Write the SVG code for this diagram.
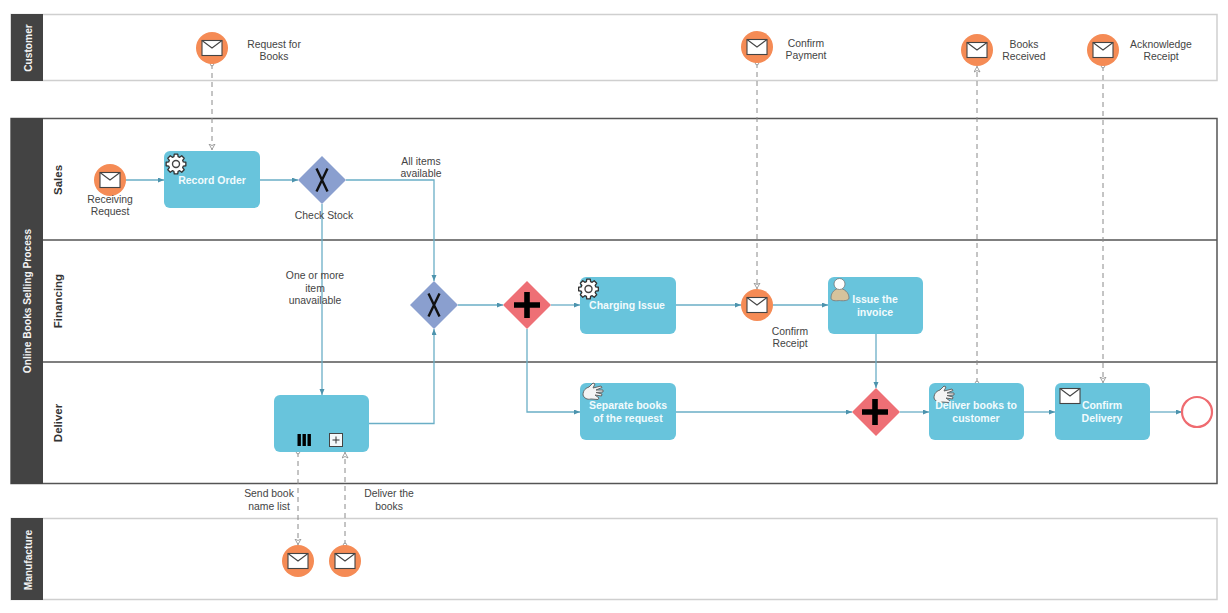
<svg xmlns="http://www.w3.org/2000/svg" xmlns:xlink="http://www.w3.org/1999/xlink" width="1228" height="613" viewBox="0 0 1228 613">
<style>
text{font-family:"Liberation Sans",Arial,sans-serif}
.pool{fill:#fff;stroke:#cfcfcf;stroke-width:1.5}
.main{fill:#fff;stroke:#555;stroke-width:1.5}
.hd{fill:#434343}
.hl{fill:#f4f4f4;font-size:10.2px;font-weight:bold;text-anchor:middle}
.ll{fill:#333;font-size:11.5px;font-weight:bold;text-anchor:middle}
.lab{fill:#444;font-size:10.4px;text-anchor:middle}
.tt{fill:#f2fbfd;font-size:10.5px;font-weight:bold;text-anchor:middle}
.task{fill:#68c4dc}
.ev{fill:#f58b55}
.flow{fill:none;stroke:#6aaec6;stroke-width:1.3;marker-end:url(#ah)}
.msg{fill:none;stroke:#8a8a8a;stroke-width:1;stroke-dasharray:5 4;marker-end:url(#oh);marker-start:url(#oc)}
</style>
<defs>
<marker id="ah" markerUnits="userSpaceOnUse" markerWidth="8" markerHeight="6" refX="6" refY="2.500" orient="auto"><path d="M0 0L6 2.500L0 5Z" fill="#4c93ad"/></marker>
<marker id="oh" markerUnits="userSpaceOnUse" markerWidth="8" markerHeight="8" refX="6.500" refY="3.500" orient="auto"><path d="M0.500 0.500L6 3.500L0.500 6.500L2 3.500Z" fill="#fff" stroke="#8a8a8a" stroke-width=".8"/></marker>
<marker id="oc" markerUnits="userSpaceOnUse" markerWidth="6" markerHeight="6" refX="3" refY="3" orient="auto"><circle cx="3" cy="3" r="1.8" fill="#fff" stroke="#8a8a8a" stroke-width=".8"/></marker>
<g id="env"><rect x="-10" y="-7.500" width="20" height="15" fill="#fff" stroke="#444" stroke-width="1.100"/><path d="M-10-7.500L0 0L10-7.500" fill="none" stroke="#444" stroke-width="1.100"/></g>
<g id="gear"><path d="M7.300-2.100L9.850-1.740L9.850 1.740L7.300 2.100L6.650 3.680L8.200 5.730L5.730 8.200L3.680 6.650L2.100 7.300L1.740 9.850L-1.740 9.850L-2.100 7.300L-3.680 6.650L-5.730 8.200L-8.200 5.730L-6.650 3.680L-7.300 2.100L-9.850 1.740L-9.850-1.740L-7.300-2.100L-6.650-3.680L-8.200-5.730L-5.730-8.200L-3.680-6.650L-2.100-7.300L-1.740-9.850L1.740-9.850L2.100-7.300L3.680-6.650L5.730-8.200L8.200-5.730L6.650-3.680Z" fill="#fff" stroke="#333" stroke-width="1.300" stroke-linejoin="round"/><circle r="3.500" fill="#fff" stroke="#444" stroke-width="1.400"/></g>
<g id="hand"><path d="M-10 3C-10-2-7-4-4-5L0-9L2-8L0-4L8-6L9-4.500L3-2L10-2L10 0L3 .5L9 2L8.500 4L2 3L6 6L5 7.500L-2 7C-6 8-9 6-10 3Z" fill="#f4f4f4" stroke="#666" stroke-width="1" stroke-linejoin="round"/></g>
<g id="xm"><path d="M-5.500-11.500L5.500 11.500M5.500-11.500L-5.500 11.500" stroke="#111" stroke-width="2.400" fill="none"/></g>
<g id="pm"><path d="M-13-2.800H-2.800V-13H2.800V-2.800H13V2.800H2.800V13H-2.800V2.800H-13Z" fill="#000"/></g>
</defs>
<rect width="1228" height="613" fill="#fff"/>

<g id="pool-customer"><rect class="pool" x="11" y="14.500" width="1206" height="66"/><rect class="hd" x="11" y="14" width="32" height="67"/><text class="hl" transform="translate(32,48) rotate(-90)">Customer</text></g>
<g id="pool-main"><rect class="main" x="11" y="118.500" width="1206" height="365"/><rect class="hd" x="11" y="118" width="32" height="366"/><text class="hl" transform="translate(31,301) rotate(-90)">Online Books Selling Process</text>
<path d="M43 240H1217M43 362H1217" stroke="#555" stroke-width="1.500" fill="none"/>
<text class="ll" transform="translate(62,180) rotate(-90)">Sales</text><text class="ll" transform="translate(62,301) rotate(-90)">Financing</text><text class="ll" transform="translate(62,423) rotate(-90)">Deliver</text></g>
<g id="pool-manufacture"><rect class="pool" x="11" y="518.500" width="1206" height="81"/><rect class="hd" x="11" y="518" width="32" height="82"/><text class="hl" transform="translate(32,560) rotate(-90)">Manufacture</text></g>

<g id="connectors">
<path class="flow" d="M126 180H164"/>
<path class="flow" d="M260 180H298"/>
<path class="flow" d="M346 180H434V281"/>
<path class="flow" d="M322 204V395"/>
<path class="flow" d="M369 423.500H434V329"/>
<path class="flow" d="M458 305H503"/>
<path class="flow" d="M551 305H580"/>
<path class="flow" d="M527 329V412H580"/>
<path class="flow" d="M676 305H741"/>
<path class="flow" d="M773 305H828"/>
<path class="flow" d="M876 334V388"/>
<path class="flow" d="M676 412H852"/>
<path class="flow" d="M900 412H929"/>
<path class="flow" d="M1024 412H1055"/>
<path class="flow" d="M1150 412H1182"/>
<path class="msg" d="M212 64V150"/>
<path class="msg" d="M757 63V289"/>
<path class="msg" d="M977 383V66"/>
<path class="msg" d="M1103 66V383"/>
<path class="msg" d="M298 452V545"/>
<path class="msg" d="M345 545V452"/>
</g>

<g id="ev-request"><circle class="ev" cx="212" cy="48" r="16"/><use href="#env" x="212" y="48"/><text class="lab"><tspan x="274" y="48">Request for</tspan><tspan x="274" y="60">Books</tspan></text></g>
<g id="ev-payment"><circle class="ev" cx="757" cy="47" r="16"/><use href="#env" x="757" y="47"/><text class="lab"><tspan x="806" y="47">Confirm</tspan><tspan x="806" y="59">Payment</tspan></text></g>
<g id="ev-received"><circle class="ev" cx="977" cy="50" r="16"/><use href="#env" x="977" y="50"/><text class="lab"><tspan x="1024" y="48">Books</tspan><tspan x="1024" y="60">Received</tspan></text></g>
<g id="ev-ack"><circle class="ev" cx="1103" cy="50" r="16"/><use href="#env" x="1103" y="50"/><text class="lab"><tspan x="1161" y="48">Acknowledge</tspan><tspan x="1161" y="60">Receipt</tspan></text></g>
<g id="ev-receiving"><circle class="ev" cx="110" cy="180" r="16"/><use href="#env" x="110" y="180"/><text class="lab"><tspan x="110" y="203">Receiving</tspan><tspan x="110" y="215">Request</tspan></text></g>
<g id="task-record"><rect class="task" x="164" y="151" width="96" height="57" rx="6"/><use href="#gear" x="176" y="164"/><text class="tt" x="212" y="184">Record Order</text></g>
<g id="gw-stock"><path d="M322 156L346 180L322 204L298 180Z" fill="#8a9fcf"/><use href="#xm" x="322" y="180"/><text class="lab" x="324" y="219">Check Stock</text></g>
<g id="lab-all"><text class="lab"><tspan x="421" y="165">All items</tspan><tspan x="421" y="177">available</tspan></text></g>
<g id="lab-one"><text class="lab"><tspan x="315" y="279">One or more</tspan><tspan x="315" y="292">item</tspan><tspan x="315" y="304">unavailable</tspan></text></g>
<g id="gw-merge"><path d="M434 281L458 305L434 329L410 305Z" fill="#8a9fcf"/><use href="#xm" x="434" y="305"/></g>
<g id="gw-split"><path d="M527 281L551 305L527 329L503 305Z" fill="#ee6f75"/><use href="#pm" x="527" y="305"/></g>
<g id="task-charging"><rect class="task" x="580" y="277" width="96" height="57" rx="6"/><use href="#gear" x="588.500" y="289"/><text class="tt" x="627" y="309">Charging Issue</text></g>
<g id="ev-confirm-receipt"><circle class="ev" cx="757" cy="305" r="16"/><use href="#env" x="757" y="305"/><text class="lab"><tspan x="790" y="335">Confirm</tspan><tspan x="790" y="347">Receipt</tspan></text></g>
<g id="task-invoice"><rect class="task" x="828" y="277" width="95" height="57" rx="6"/><path d="M831 298C831 292 835 289 839.500 288C844 289 849 292 849 298C849 301 842 301 839.500 300.500C836 301 831 301 831 298Z" fill="#d6c39c" stroke="#777" stroke-width=".8"/><circle cx="839.500" cy="284" r="5.500" fill="#fff" stroke="#777" stroke-width=".8"/><text class="tt"><tspan x="875" y="303">Issue the</tspan><tspan x="875" y="316">invoice</tspan></text></g>
<g id="task-sub"><rect class="task" x="274" y="395" width="95" height="57" rx="6"/><path d="M297.500 434h3.400v12h-3.400zM302.500 434h3.400v12h-3.400zM307.500 434h3.400v12h-3.400z" fill="#000"/><rect x="329.500" y="433.500" width="13" height="13" fill="#f4f8fa" stroke="#444"/><path d="M336 436.500v7M332.500 440h7" stroke="#333" fill="none"/></g>
<g id="task-separate"><rect class="task" x="580" y="383" width="96" height="57" rx="6"/><use href="#hand" x="593" y="392"/><text class="tt"><tspan x="628" y="409">Separate books</tspan><tspan x="628" y="422">of the request</tspan></text></g>
<g id="gw-join"><path d="M876 388L900 412L876 436L852 412Z" fill="#ee6f75"/><use href="#pm" x="875" y="412"/></g>
<g id="task-deliver"><rect class="task" x="929" y="383" width="95" height="57" rx="6"/><use href="#hand" x="944" y="395"/><text class="tt"><tspan x="976" y="409">Deliver books to</tspan><tspan x="976" y="422">customer</tspan></text></g>
<g id="task-confirm"><rect class="task" x="1055" y="383" width="95" height="57" rx="6"/><use href="#env" x="1070" y="396"/><text class="tt"><tspan x="1102" y="409">Confirm</tspan><tspan x="1102" y="422">Delivery</tspan></text></g>
<g id="ev-end"><circle cx="1197" cy="412" r="15" fill="#fff" stroke="#ef6b70" stroke-width="2.200"/></g>
<g id="ev-send"><circle class="ev" cx="298" cy="561" r="16"/><use href="#env" x="298" y="561"/></g>
<g id="ev-deliver"><circle class="ev" cx="345" cy="561" r="16"/><use href="#env" x="345" y="561"/></g>
<g id="lab-send"><text class="lab"><tspan x="269" y="497">Send book</tspan><tspan x="269" y="510">name list</tspan></text></g>
<g id="lab-deliver"><text class="lab"><tspan x="389" y="497">Deliver the</tspan><tspan x="389" y="510">books</tspan></text></g>
</svg>
